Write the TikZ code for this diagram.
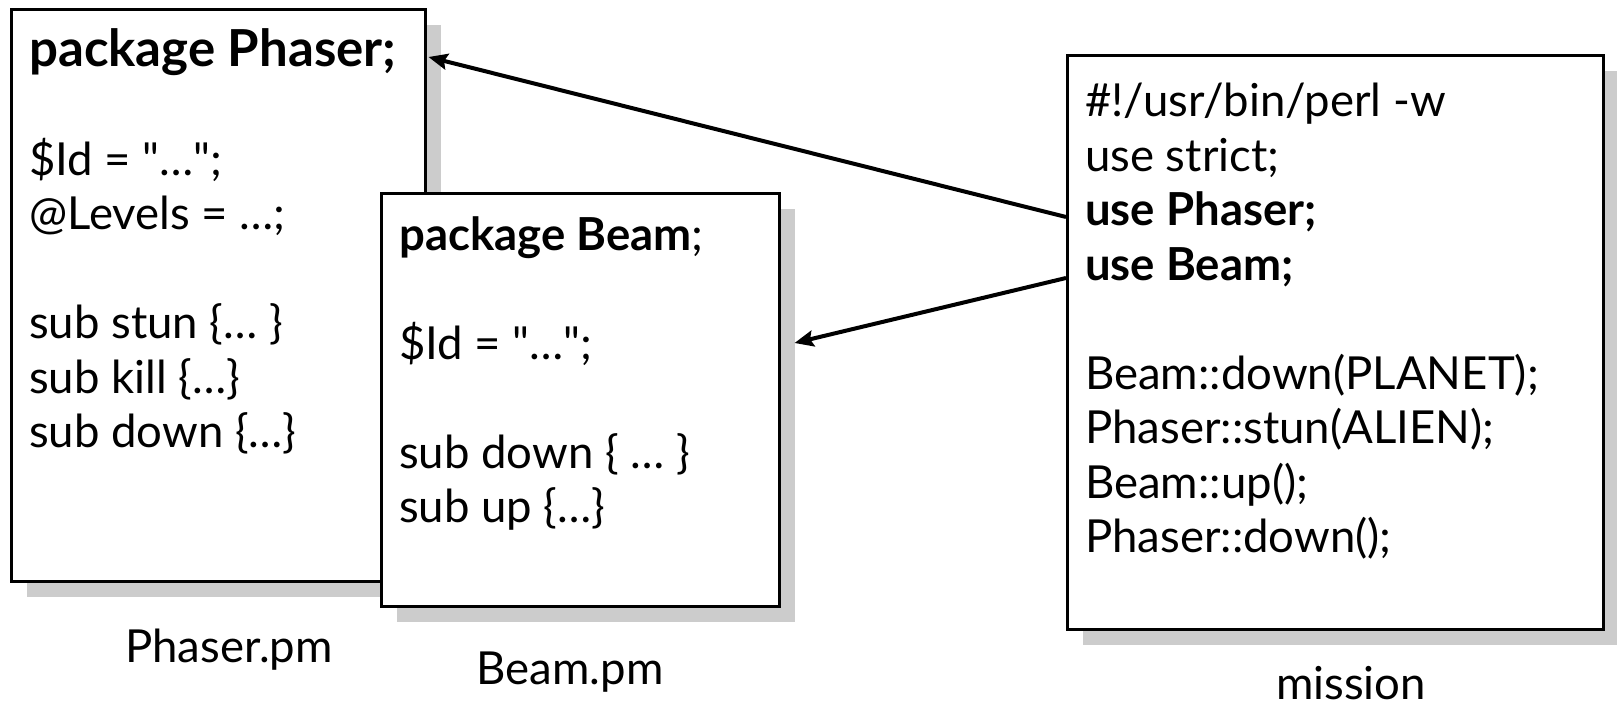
\documentclass[tikz,border=0pt]{standalone}
\usepackage{fontspec}
\setmainfont{Lato}
\usepackage{tikz}
\usetikzlibrary{arrows.meta,calc,shadows}

\newcommand{\codefont}{\fontsize{45.5}{54.5}\selectfont}
\newcommand{\headfont}{\fontsize{51}{54.5}\selectfont}

\tikzset{
  codebox/.style={draw, line width=2.5pt, fill=white, anchor=north west, inner sep=0pt,
    drop shadow={shadow xshift=16pt, shadow yshift=-16pt, fill=black!20, opacity=1}},
  codetext/.style={anchor=north west, align=left, inner sep=0pt, font=\codefont},
  filename/.style={inner sep=0pt, font=\codefont},
  uses/.style={-{Stealth[length=19pt,width=16pt,inset=3pt]}, line width=4pt}
}

\begin{document}
\begin{tikzpicture}[x=1pt, y=1pt]

\useasboundingbox (0,0) rectangle (1617,-712);

% Kaesten
\node[codebox, minimum width=414, minimum height=572] (phaser) at (10,-8) {};
\node[codetext] (phasercode) at (29,-28)
  {{\headfont\textbf{package Phaser;}}\\ ~\\
   \$Id = \textquotedbl…\textquotedbl;\\ @Levels = …;\\ ~\\
   sub stun \{… \}\\ sub kill \{…\}\\ sub down \{…\}};

\node[codebox, minimum width=398, minimum height=413] (beam) at (380,-192) {};
\node[codetext] (beamcode) at (399,-216)
  {\textbf{package Beam};\\ ~\\ \$Id = \textquotedbl…\textquotedbl;\\ ~\\
   sub down \{ … \}\\ sub up \{…\}};

\node[codebox, minimum width=536, minimum height=574] (mission) at (1066,-54) {};
\node[codetext] (missioncode) at (1085,-83)
  {\#!/usr/bin/perl -w\\ use strict;\\ \textbf{use Phaser;}\\ \textbf{use Beam;}\\ ~\\
   Beam::down(PLANET);\\ Phaser::stun(ALIEN);\\ Beam::up();\\ Phaser::down();};

% Dateinamen
\node[filename] (phaserlbl) at (229,-650) {Phaser.pm};
\node[filename] (beamlbl) at (570,-672) {Beam.pm};
\node[filename, anchor=base] (missionlbl) at (1351,-699) {mission};

% use-Pfeile
\draw[uses] ($(mission.north west)+(0,-163)$) -- ($(phaser.north east)+(2,-49)$);
\draw[uses] ($(mission.north west)+(0,-224)$) -- ($(beam.north east)+(14,-151)$);

\end{tikzpicture}
\end{document}
